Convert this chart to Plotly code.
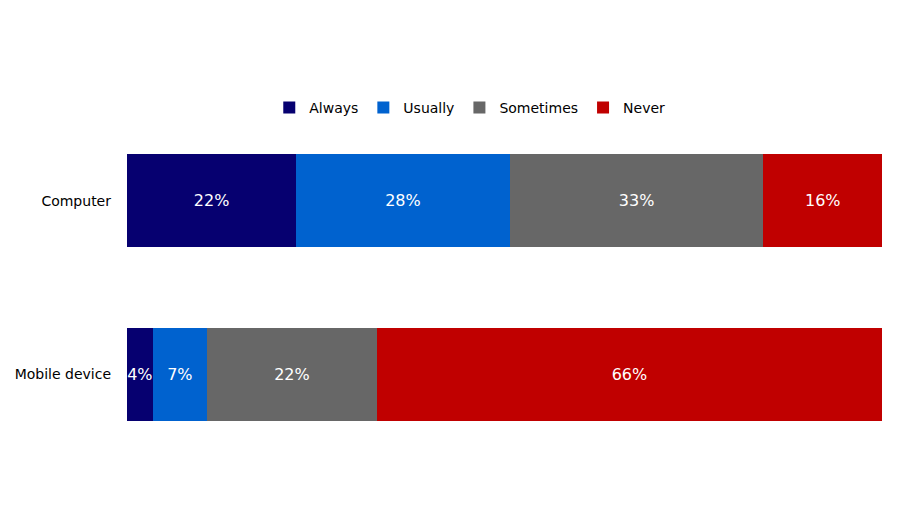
import plotly.graph_objects as go

categories = ["Computer", "Mobile device"]
series_names = ["Always", "Usually", "Sometimes", "Never"]
# bar shares (percent of respondents)
always = [22.4, 3.4]
usually = [28.3, 7.2]
sometimes = [33.6, 22.5]
never = [15.7, 66.9]
# printed labels as shown on the bars
always_lbl = [22, 4]
usually_lbl = [28, 7]
sometimes_lbl = [33, 22]
never_lbl = [16, 66]
colors = ["#060070", "#0062CF", "#676767", "#C00000"]

FONT = "DejaVu Sans, Verdana, sans-serif"

fig = go.Figure()
for name, vals, lbls, col in zip(series_names,
                                 [always, usually, sometimes, never],
                                 [always_lbl, usually_lbl, sometimes_lbl, never_lbl],
                                 colors):
    fig.add_trace(go.Bar(
        y=categories, x=vals, name=name, orientation="h",
        marker=dict(color=col, line=dict(width=0)),
        text=[f"{v}%" for v in lbls], textposition="inside",
        insidetextanchor="middle", textangle=0,
        textfont=dict(color="white", size=16, family=FONT),
        hoverinfo="skip",
    ))

fig.update_layout(
    barmode="stack", barnorm="percent", bargap=0.465,
    width=900, height=506,
    margin=dict(l=119, r=26, t=105.5, b=52.5, autoexpand=False),
    plot_bgcolor="white", paper_bgcolor="white",
    font=dict(family=FONT, size=14, color="black"),
    uniformtext=dict(minsize=16, mode="show"),
    legend=dict(orientation="h", x=0.454, xanchor="center",
                y=1 - 100 / 506, yanchor="middle", yref="container",
                font=dict(size=14), traceorder="normal", itemwidth=30),
    showlegend=True,
)
fig.update_xaxes(visible=False, range=[0, 100], fixedrange=True)
fig.update_yaxes(autorange="reversed", showgrid=False, showline=False, ticks="",
                 ticklabelstandoff=15, tickfont=dict(size=14, color="black"))

fig.write_html("out.html")
